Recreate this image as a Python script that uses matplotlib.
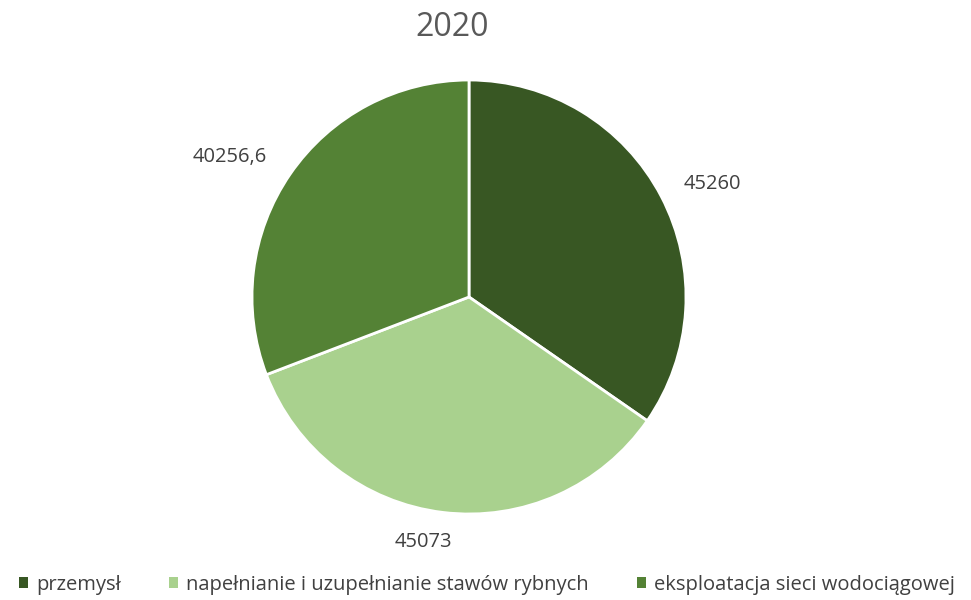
import numpy as np
import matplotlib.pyplot as plt
from matplotlib.patches import Patch

plt.rcParams['font.family'] = ['Open Sans', 'DejaVu Sans']

# data
categories = ["przemysł", "napełnianie i uzupełnianie stawów rybnych",
              "eksploatacja sieci wodociągowej"]
values = [45260, 45073, 40256.6]
value_labels = ["45260", "45073", "40256,6"]
colors = ["#385723", "#a9d18e", "#548235"]

fig = plt.figure(figsize=(9.71, 6), dpi=100)
ax = fig.add_axes([252 / 971, 86 / 600, 434 / 971, 434 / 600])

wedges, _ = ax.pie(values, colors=colors, startangle=90, counterclock=False,
                   radius=1, wedgeprops=dict(edgecolor="white", linewidth=2))
ax.set_xlim(-1, 1)
ax.set_ylim(-1, 1)
ax.set_aspect("equal")
ax.axis("off")

# value labels outside each slice (distance, angle nudge in degrees)
label_dist = [1.235, 1.15, 1.276]
label_turn = [-2.7, -3.7, 4.1]
for w, txt, d, t in zip(wedges, value_labels, label_dist, label_turn):
    ang = np.deg2rad((w.theta1 + w.theta2) / 2 + t)
    ax.text(d * np.cos(ang), d * np.sin(ang), txt, ha="center", va="center",
            fontsize=14.5, color="#404040")

fig.text(452 / 971, 1 - 27 / 600, "2020", ha="center", va="center",
         fontsize=23, color="#595959")

handles = [Patch(facecolor=c, edgecolor="none") for c in colors]
fig.legend(handles, categories, loc="center", bbox_to_anchor=(487 / 971, 1 - 585 / 600),
           ncol=3, frameon=False, fontsize=14.5, handlelength=0.45, handleheight=0.45,
           handletextpad=0.4, columnspacing=2.4, labelcolor="#404040")

fig.savefig("out.png", dpi=100)
